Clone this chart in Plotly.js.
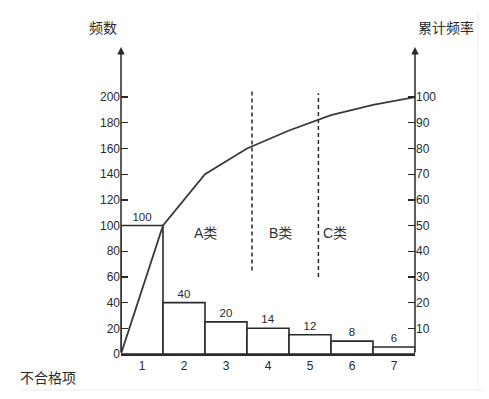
<!DOCTYPE html>
<html><head><meta charset="utf-8">
<script src="https://cdn.plot.ly/plotly-3.0.1.min.js"></script>
<style>body{margin:0;background:#fff}#c{width:489px;height:399px}</style>
</head><body><div id="c"></div>
<script>
const categories = [1, 2, 3, 4, 5, 6, 7];
const barHeights = [100, 40, 25, 20, 15, 10, 5.5];
const barLabels = ['100', '40', '20', '14', '12', '8', '6'];
const cumX = [0.5, 1.5, 2.5, 3.5, 4.5, 5.5, 6.5, 7.5];
const cumPercent = [0, 50, 70, 80, 87, 93, 97, 100];
const leftTicks = [0, 20, 40, 60, 80, 100, 120, 140, 160, 180, 200];
const rightTicks = [10, 20, 30, 40, 50, 60, 70, 80, 90, 100];
const classLabels = ['A类', 'B类', 'C类'];
const classX = [2.5, 4.3, 5.6];
const dividerX = [3.62, 5.2];

const ink = '#2a2a2a';
const numFont = {family: 'Liberation Sans, Arial, sans-serif', size: 12, color: ink};
const barFont = {family: 'Liberation Sans, Arial, sans-serif', size: 11.5, color: ink};
const cjk = 'Noto Sans CJK SC, sans-serif';

const traces = [
  {type: 'bar', x: categories, y: barHeights, width: 1, text: barLabels,
   textposition: 'outside', textfont: barFont, outsidetextfont: barFont, insidetextfont: barFont,
   constraintext: 'none', cliponaxis: false,
   marker: {color: '#fff', line: {color: ink, width: 1.6}}, hoverinfo: 'none'},
  {type: 'scatter', mode: 'lines', x: cumX, y: cumPercent, yaxis: 'y2',
   line: {color: '#3a3a3a', width: 1.8}, cliponaxis: false, hoverinfo: 'none'}
];

const annotations = [
  {x: 0.5, y: 239, ax: 0.5, ay: 0, xref: 'x', yref: 'y', axref: 'x', ayref: 'y',
   showarrow: true, arrowhead: 2, arrowsize: 1, arrowwidth: 1.5, arrowcolor: ink, text: ''},
  {x: 7.5, y: 239, ax: 7.5, ay: 0, xref: 'x', yref: 'y', axref: 'x', ayref: 'y',
   showarrow: true, arrowhead: 2, arrowsize: 1, arrowwidth: 1.5, arrowcolor: ink, text: ''},
  {xref: 'paper', yref: 'paper', x: -0.06, y: 1.065, text: '频数', showarrow: false,
   font: {family: cjk, size: 14, color: ink}, xanchor: 'center', yanchor: 'middle'},
  {xref: 'paper', yref: 'paper', x: 1.105, y: 1.065, text: '累计频率', showarrow: false,
   font: {family: cjk, size: 14, color: ink}, xanchor: 'center', yanchor: 'middle'},
  {xref: 'paper', yref: 'paper', x: -0.25, y: -0.075, text: '不合格项', showarrow: false,
   font: {family: cjk, size: 14, color: ink}, xanchor: 'center', yanchor: 'middle'}
];
classLabels.forEach((t, i) => annotations.push({
  x: classX[i], y: 94, xref: 'x', yref: 'y', text: t, showarrow: false,
  font: {family: 'Liberation Sans, ' + cjk, size: 14, color: '#333'}
}));

const shapes = [
  {type: 'line', xref: 'x', yref: 'y', x0: dividerX[0], x1: dividerX[0], y0: 65, y1: 205,
   line: {color: ink, width: 1.5, dash: '4px,3px'}},
  {type: 'line', xref: 'x', yref: 'y', x0: dividerX[1], x1: dividerX[1], y0: 60, y1: 203,
   line: {color: ink, width: 1.5, dash: '4px,3px'}},
  {type: 'line', xref: 'paper', yref: 'paper', x0: -0.34, x1: 1.23, y0: -0.117, y1: -0.117,
   line: {color: '#ececec', width: 1}},
  {type: 'line', xref: 'paper', yref: 'paper', x0: 1.214, x1: 1.214, y0: -0.117, y1: 1.12,
   line: {color: '#ececec', width: 1}}
];

const layout = {
  width: 489, height: 399,
  margin: {l: 121, r: 74, t: 47, b: 45},
  paper_bgcolor: '#fff', plot_bgcolor: '#fff',
  showlegend: false, bargap: 0,
  xaxis: {range: [0.5, 7.5], tickvals: categories, ticks: '', showgrid: false,
          zeroline: false, showline: true, linecolor: ink, linewidth: 1.5,
          tickfont: numFont, fixedrange: true},
  yaxis: {range: [0, 239], tickvals: leftTicks, ticks: 'inside', ticklen: 7,
          tickcolor: ink, tickwidth: 1.3, showgrid: false, zeroline: false,
          showline: false, tickfont: numFont, fixedrange: true},
  yaxis2: {range: [0, 119.5], overlaying: 'y', side: 'right', tickvals: rightTicks,
           ticks: 'inside', ticklen: 7, tickcolor: ink, tickwidth: 1.3,
           showgrid: false, zeroline: false, showline: false, tickfont: numFont, fixedrange: true},
  annotations: annotations, shapes: shapes
};
Plotly.newPlot('c', traces, layout, {displayModeBar: false, staticPlot: true});
</script></body></html>
